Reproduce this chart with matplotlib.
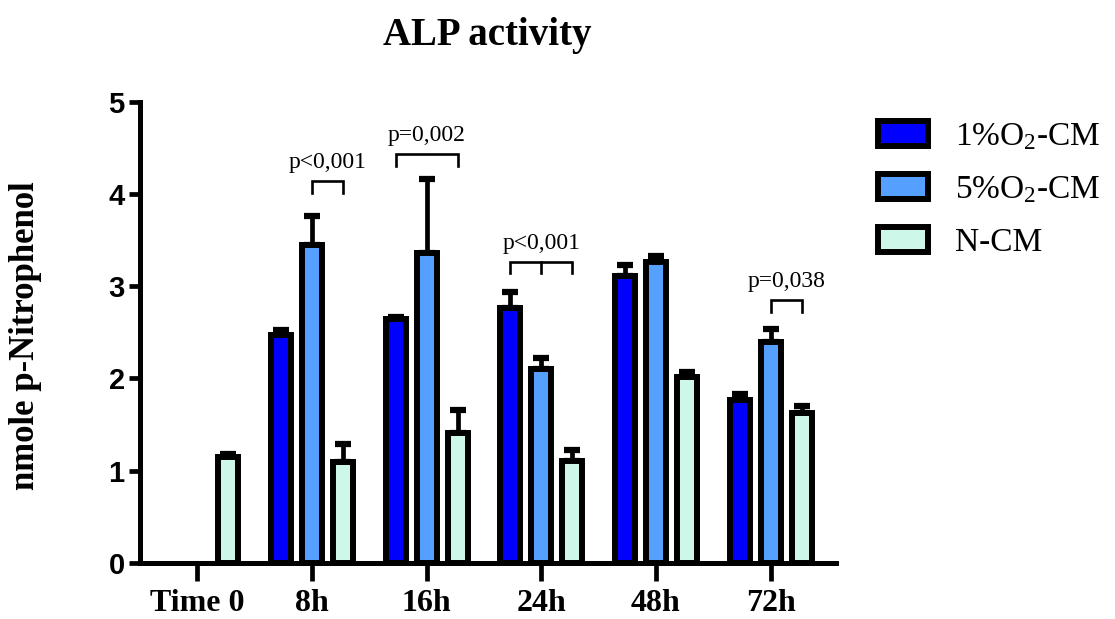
import numpy as np
import matplotlib
matplotlib.use("Agg")
import matplotlib.pyplot as plt

plt.rcParams['mathtext.fontset'] = 'custom'
plt.rcParams['mathtext.rm'] = 'Liberation Serif'
plt.rcParams['mathtext.it'] = 'Liberation Serif:italic'

categories = ["Time 0", "8h", "16h", "24h", "48h", "72h"]
series_names = ["1%O$_2$-CM", "5%O$_2$-CM", "N-CM"]
o1_vals = [np.nan, 2.47, 2.64, 2.76, 3.11, 1.76]
o1_err = [np.nan, 0.05, 0.02, 0.18, 0.12, 0.07]
o5_vals = [np.nan, 3.45, 3.36, 2.10, 3.26, 2.39]
o5_err = [np.nan, 0.31, 0.80, 0.12, 0.07, 0.15]
n_vals = [1.15, 1.09, 1.41, 1.10, 2.01, 1.62]
n_err = [0.03, 0.20, 0.25, 0.12, 0.06, 0.08]
colors = ["#0000FF", "#559FFF", "#CDF7E8"]

# significance brackets: (group index, series from, series to, mid tick series or None, label, y low, y high)
brackets = [
    (1, 1, 2, None, "p<0,001", 4.01, 4.14),
    (2, 0, 2, None, "p=0,002", 4.30, 4.43),
    (3, 0, 2, 1, "p<0,001", 3.14, 3.26),
    (5, 1, 2, None, "p=0,038", 2.72, 2.85),
]

fig = plt.figure(figsize=(11.15, 6.19), dpi=100)
ax = fig.add_axes([140/1115, 1-562.7/619, 696/1115, (562.7-101.7)/619])

x = np.arange(len(categories))
offsets = [-0.27, 0.0, 0.27]
width = 0.175
all_vals = [o1_vals, o5_vals, n_vals]
all_errs = [o1_err, o5_err, n_err]

for vals, errs, off, c, name in zip(all_vals, all_errs, offsets, colors, series_names):
    vals = np.array(vals, dtype=float)
    errs = np.array(errs, dtype=float)
    ax.errorbar(x + off, vals, yerr=[np.zeros_like(errs), errs], fmt='none',
                ecolor='black', elinewidth=3.4, capsize=6, capthick=4.5, zorder=2)
    ax.bar(x + off, vals, width=width, color=c, edgecolor='black',
           linewidth=4.3, label=name, zorder=3)

for gi, s0, s1, smid, label, ylo, yhi in brackets:
    xa = gi + offsets[s0]
    xb = gi + offsets[s1]
    ax.plot([xa, xa, xb, xb], [ylo, yhi, yhi, ylo], color='black', lw=1.9,
            solid_joinstyle='miter', zorder=4)
    if smid is not None:
        xm = gi + offsets[smid]
        ax.plot([xm, xm], [ylo, yhi], color='black', lw=1.9, zorder=4)
    ax.text((xa + xb) / 2, yhi + 0.09, label, ha='center', va='bottom',
            fontsize=17, family='Liberation Serif')

ax.set_xlim(-0.5, 5.57)
ax.set_ylim(0, 5)
for s in ['top', 'right']:
    ax.spines[s].set_visible(False)
for s in ['left', 'bottom']:
    ax.spines[s].set_linewidth(3.6)
    ax.spines[s].set_capstyle('projecting')

ax.set_yticks([0, 1, 2, 3, 4, 5])
ax.set_yticklabels(['0', '1', '2', '3', '4', '5'], fontsize=21, fontweight='bold',
                   family='Liberation Sans')
ax.set_xticks(x)
ax.set_xticklabels(categories, fontsize=23, fontweight='bold', family='Liberation Serif')
ax.tick_params(axis='y', length=8, width=3.4, pad=3)
ax.tick_params(axis='x', length=13, width=3.4, pad=6)

fig.text(487/1115, 1-35/619, "ALP activity", ha='center', va='center', fontsize=28,
         fontweight='bold', family='Liberation Serif')
fig.text(26/1115, 1-335.5/619, "nmole p-Nitrophenol", ha='center', va='center',
         rotation=90, fontsize=25, fontweight='bold', family='Liberation Serif')

leg = fig.legend(loc='upper left', bbox_to_anchor=(878/1115, 1-121/619),
                 bbox_transform=fig.transFigure, frameon=False,
                 prop={'family': 'Liberation Serif', 'size': 24},
                 handlelength=1.5, handleheight=0.78, labelspacing=0.66,
                 handletextpad=0.8, borderpad=0, borderaxespad=0)
for h in leg.legend_handles:
    h.set_linewidth(4.3)

fig.savefig("out.png", dpi=100)
